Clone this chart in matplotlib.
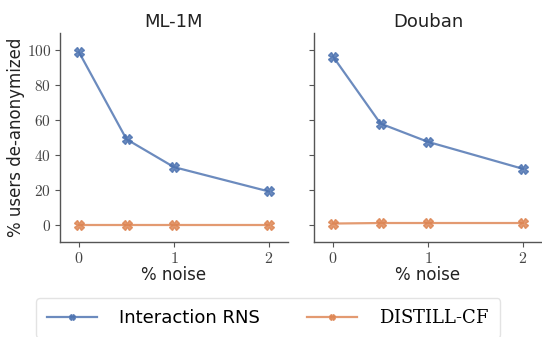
import matplotlib
matplotlib.use("Agg")
import matplotlib.pyplot as plt

noise = [0, 0.5, 1, 2]
xticks = [0, 1, 2]
yticks = [0, 20, 40, 60, 80, 100]
datasets = ["ML-1M", "Douban"]
rns_ml1m = [99, 49, 33, 19]
distill_ml1m = [0, 0, 0, 0]
rns_douban = [96.5, 58, 47.5, 32]
distill_douban = [0.6, 0.9, 0.9, 0.9]
series = {"ML-1M": (rns_ml1m, distill_ml1m), "Douban": (rns_douban, distill_douban)}

blue = "#4C72B0"
orange = "#DD8452"

plt.rcParams["font.family"] = ["DejaVu Sans"]
plt.rcParams["mathtext.fontset"] = "cm"

fig = plt.figure(figsize=(5.42, 3.37), dpi=100)
axL = fig.add_axes([60/542, 1-242/337, 228/542, 209/337])
axR = fig.add_axes([314/542, 1-242/337, 228/542, 209/337], sharey=axL)

handles = None
for ax, name in zip([axL, axR], datasets):
    rns, dist = series[name]
    h1, = ax.plot(noise, rns, color=blue, marker="X", markersize=7, lw=1.6, alpha=0.82)
    h2, = ax.plot(noise, dist, color=orange, marker="X", markersize=7, lw=1.6, alpha=0.82)
    handles = (h1, h2)
    ax.set_xlim(-0.2, 2.2)
    ax.set_ylim(-10, 110)
    ax.set_xticks(xticks)
    ax.set_xticklabels([f"${t}$" for t in xticks], fontsize=11.5, color="#444444")
    ax.set_yticks(yticks)
    ax.set_title(name, fontsize=13, color="#222222", pad=4)
    ax.set_xlabel("% noise", fontsize=12, color="#222222", labelpad=0)
    for s in ["top", "right"]:
        ax.spines[s].set_visible(False)
    for s in ["left", "bottom"]:
        ax.spines[s].set_color("#555555")
        ax.spines[s].set_linewidth(1.0)
    ax.tick_params(axis="both", colors="#555555", length=3.5, pad=3, labelcolor="#444444")
    ax.set_facecolor("white")

axL.set_yticklabels([f"${t}$" for t in yticks], fontsize=11)
axL.set_ylabel("% users de-anonymized", fontsize=12, color="#222222")
axL.yaxis.set_label_coords(-0.155, 0.5)
plt.setp(axR.get_yticklabels(), visible=False)

leg = fig.legend(handles, ["Interaction RNS", r"D$\mathregular{ISTILL}$-CF"], loc="upper left",
                 bbox_to_anchor=(36/542, 1-298/337), ncol=2, fontsize=13, frameon=True,
                 columnspacing=2.6, handlelength=2.8, handletextpad=1.2,
                 markerscale=0.6, borderpad=0.6, borderaxespad=0)
leg.get_frame().set_edgecolor("#dddddd")
texts = leg.get_texts()
texts[1].set_fontfamily("DejaVu Serif")

fig.savefig("out.png", dpi=100)
